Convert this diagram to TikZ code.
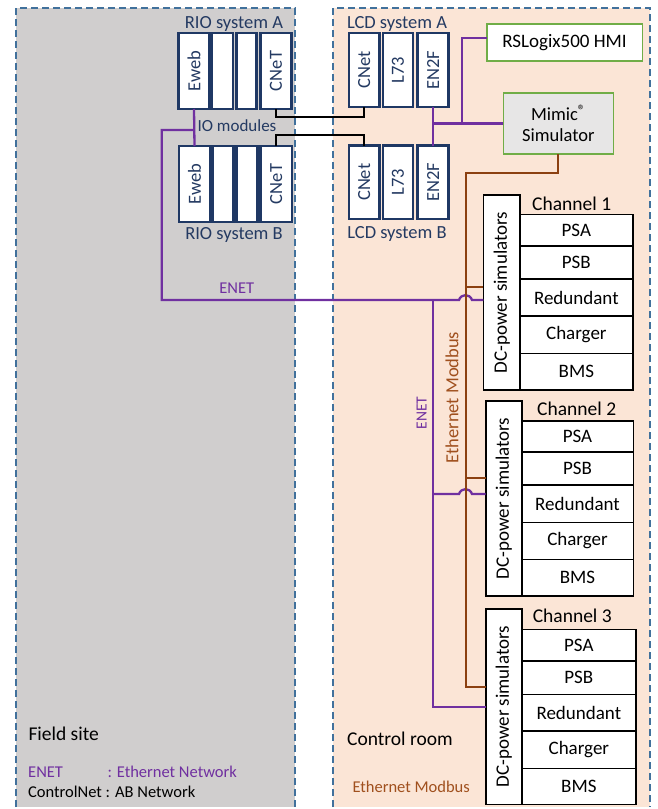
\documentclass[tikz,border=0pt]{standalone}
\usepackage{fontspec}
\usepackage{graphicx}
\setmainfont{Carlito}
\definecolor{fieldgray}{HTML}{D0CECE}
\definecolor{roompeach}{HTML}{FBE5D6}
\definecolor{dashblue}{HTML}{41719C}
\definecolor{navy}{HTML}{1F3864}
\definecolor{navytext}{HTML}{243A62}
\definecolor{enetpurple}{HTML}{7030A0}
\definecolor{modbusbrown}{HTML}{8B4011}
\definecolor{modbustext}{HTML}{A0501E}
\definecolor{hmigreen}{HTML}{70AD47}
\definecolor{mimicgray}{HTML}{E7E6E6}
\newcommand{\fs}[1]{\fontsize{#1}{#1}\selectfont}
\newcommand{\cellnode}[6]{\node[cell, minimum width={#3pt-#2pt}, minimum height={#5pt-#4pt}] (#1) at ({(#2+#3)/2},{(#4+#5)/2}) {#6};}
\begin{document}
\begin{tikzpicture}[x=1pt,y=-1pt,
  zone/.style={draw=dashblue, dash pattern=on 7pt off 4pt, line width=1.3pt},
  mod/.style={draw=navy, line width=2.6pt, fill=white, inner sep=0pt, outer sep=0pt, text=navytext, font=\fs{18.5}},
  lbl/.style={inner sep=0pt, text=navytext, font=\fs{18.5}},
  cell/.style={draw=black, line width=1.6pt, fill=white, inner sep=0pt, outer sep=0pt, font=\fs{19}},
  dcbox/.style={draw=black, line width=1.6pt, fill=white, inner sep=0pt, outer sep=0pt, font=\fs{19}},
  chlbl/.style={inner sep=0pt, font=\fs{19.5}},
  greenbox/.style={draw=hmigreen, line width=1.6pt, inner sep=0pt, outer sep=0pt, font=\fs{19}},
  enet/.style={draw=enetpurple, line width=2.3pt},
  modbus/.style={draw=modbusbrown, line width=2.3pt},
  cnet/.style={draw=black, line width=2.3pt},
  txt/.style={inner sep=0pt, anchor=west}
]
\useasboundingbox (0,0) rectangle (657,809);
% zones
\path[fill=fieldgray] (16,8) rectangle (295,807);
\path[fill=roompeach] (333,8) rectangle (650,807);
\draw[zone] (16,807) -- (16,8) -- (295,8) -- (295,807);
\draw[zone] (333,807) -- (333,8) -- (650,8) -- (650,807);

% RIO modules
\node[mod, minimum width=31pt, minimum height=76pt] (rioAe) at (194,71) {\rotatebox{90}{Eweb}};
\node[mod, minimum width=21pt, minimum height=76pt] (rioAb1) at (222.5,71) {};
\node[mod, minimum width=20.5pt, minimum height=76pt] (rioAb2) at (246.5,71) {};
\node[mod, minimum width=31.5pt, minimum height=76pt] (rioAc) at (276,71) {\rotatebox{90}{CNeT}};
\node[mod, minimum width=31pt, minimum height=76pt] (rioBe) at (194.5,184) {\rotatebox{90}{Eweb}};
\node[mod, minimum width=21pt, minimum height=76pt] (rioBb1) at (222.7,184) {};
\node[mod, minimum width=20.5pt, minimum height=76pt] (rioBb2) at (247,184) {};
\node[mod, minimum width=31.5pt, minimum height=76pt] (rioBc) at (276.3,184) {\rotatebox{90}{CNeT}};
\node[lbl] (rioAlbl) at (234,24) {RIO system A};
\node[lbl] (rioBlbl) at (234,235) {RIO system B};
\node[lbl, font=\fs{17}] (iolbl) at (237,126) {IO modules};

% LCD modules
\node[mod, minimum width=30.3pt, minimum height=74pt] (lcdAc) at (364.2,70) {\rotatebox{90}{CNet}};
\node[mod, minimum width=30pt, minimum height=74pt] (lcdAl) at (398,70) {\rotatebox{90}{L73}};
\node[mod, minimum width=30.6pt, minimum height=74pt] (lcdAe) at (433,70) {\rotatebox{90}{EN2F}};
\node[mod, minimum width=30.3pt, minimum height=73.3pt] (lcdBc) at (364.2,182.3) {\rotatebox{90}{CNet}};
\node[mod, minimum width=30pt, minimum height=73.3pt] (lcdBl) at (398,182.3) {\rotatebox{90}{L73}};
\node[mod, minimum width=30.6pt, minimum height=73.3pt] (lcdBe) at (433,182.3) {\rotatebox{90}{EN2F}};
\node[lbl] (lcdAlbl) at (397,24) {LCD system A};
\node[lbl] (lcdBlbl) at (397,234) {LCD system B};

% HMI and Mimic
\node[greenbox, fill=white, minimum width=155.6pt, minimum height=36.7pt] (hmi) at (564.5,42.35) {RSLogix500 HMI};
\node[greenbox, fill=mimicgray, minimum width=110pt, minimum height=61.3pt, align=center, font=\fs{18.5}] (mimic) at (558.3,123.35) {Mimic\raisebox{0.3em}{\fs{15}®}\\[2pt]Simulator};

% DC power simulator boxes
\node[dcbox, minimum width=36.7pt, minimum height=195pt] (dc1) at (501.7,292.5) {\rotatebox{90}{DC-power simulators}};
\node[dcbox, minimum width=36pt, minimum height=195.3pt] (dc2) at (503.7,498.35) {\rotatebox{90}{DC-power simulators}};
\node[dcbox, minimum width=36pt, minimum height=195.3pt] (dc3) at (503.7,706.65) {\rotatebox{90}{DC-power simulators}};

% channel tables
\cellnode{c1a}{520}{632.7}{214.3}{246}{PSA}
\cellnode{c1b}{520}{632.7}{246}{279}{PSB}
\cellnode{c1c}{520}{632.7}{279}{316}{Redundant}
\cellnode{c1d}{520}{632.7}{316}{353.3}{Charger}
\cellnode{c1e}{520}{632.7}{353.3}{390}{BMS}
\cellnode{c2a}{521.7}{633.3}{421}{451.7}{PSA}
\cellnode{c2b}{521.7}{633.3}{451.7}{485}{PSB}
\cellnode{c2c}{521.7}{633.3}{485}{522.3}{Redundant}
\cellnode{c2d}{521.7}{633.3}{522.3}{559.3}{Charger}
\cellnode{c2e}{521.7}{633.3}{559.3}{596}{BMS}
\cellnode{c3a}{521.7}{636}{629.3}{661}{PSA}
\cellnode{c3b}{521.7}{636}{661}{694.3}{PSB}
\cellnode{c3c}{521.7}{636}{694.3}{731}{Redundant}
\cellnode{c3d}{521.7}{636}{731}{768.3}{Charger}
\cellnode{c3e}{521.7}{636}{768.3}{804.3}{BMS}
\node[chlbl] (ch1) at (571.7,204) {Channel 1};
\node[chlbl] (ch2) at (576.7,409) {Channel 2};
\node[chlbl] (ch3) at (572.3,615.7) {Channel 3};

% ControlNet connections
\draw[cnet] (rioAc.south) -- ++(0,8.3) -| (lcdAc.south);
\draw[cnet] (rioBc.north) -- ++(0,-11) -| (lcdBc.north);

% ENET connections
\coordinate (e0) at (161.7,130);
\coordinate (e1) at (161.7,300);
\coordinate (p0) at (433.3,300);
\coordinate (p2) at (433.3,494);
\coordinate (p3) at (433.3,706.7);
\draw[enet] (rioAe.south) -- (rioBe.north);
\draw[enet] (rioAe.south |- e0) -- (e0) -- (e1) -- (459,300) .. controls (461,293.5) and (470,293.5) .. (472,300) -- (p0 -| dc1.west);
\draw[enet] (p0) -- (p3) -- (p3 -| dc3.west);
\draw[enet] (p2) -- (459,494) .. controls (461,487.5) and (470,487.5) .. (472,494) -- (p2 -| dc2.west);
\coordinate (q0) at (433,123.35);
\coordinate (q1) at (462.3,123.35);
\draw[enet] (lcdAe.south) -- (lcdBe.north);
\draw[enet] (q0) -- (mimic.west);
\draw[enet] (q1) |- ([yshift=4.6pt]hmi.west);

% Modbus connections
\coordinate (b0) at (466,172.7);
\coordinate (b1) at (466,286.7);
\coordinate (b2) at (466,478.3);
\coordinate (b3) at (466,687.3);
\draw[modbus] (mimic.south) |- (b0) -- (b3) -- (b3 -| dc3.west);
\draw[modbus] (b1) -- (b1 -| dc1.west);
\draw[modbus] (b2) -- (b2 -| dc2.west);

% network labels
\node[inner sep=0pt, text=enetpurple, font=\fs{16.5}] (enetlbl) at (236.7,288) {ENET};
\node[inner sep=0pt, text=enetpurple, font=\fs{15.5}, rotate=90] (enetvlbl) at (421.7,413) {ENET};
\node[inner sep=0pt, text=modbustext, font=\fs{18.5}, rotate=90] (modbusvlbl) at (452,397.5) {Ethernet Modbus};

% zone labels and legend
\node[txt, font=\fs{19.5}] (fieldlbl) at (28.3,733.3) {Field site};
\node[txt, font=\fs{19.5}] (roomlbl) at (347,738.3) {Control room};
\node[txt, font=\fs{16.5}, text=enetpurple] (leg1a) at (28,771.7) {ENET};
\node[txt, font=\fs{16.5}, text=enetpurple] (leg1b) at (107.3,771.7) {: Ethernet Network};
\node[txt, font=\fs{16.5}] (leg2) at (28,791.7) {ControlNet : AB Network};
\node[txt, font=\fs{16.5}, text=modbustext] (leg3) at (352.3,787.3) {Ethernet Modbus};
\end{tikzpicture}
\end{document}
